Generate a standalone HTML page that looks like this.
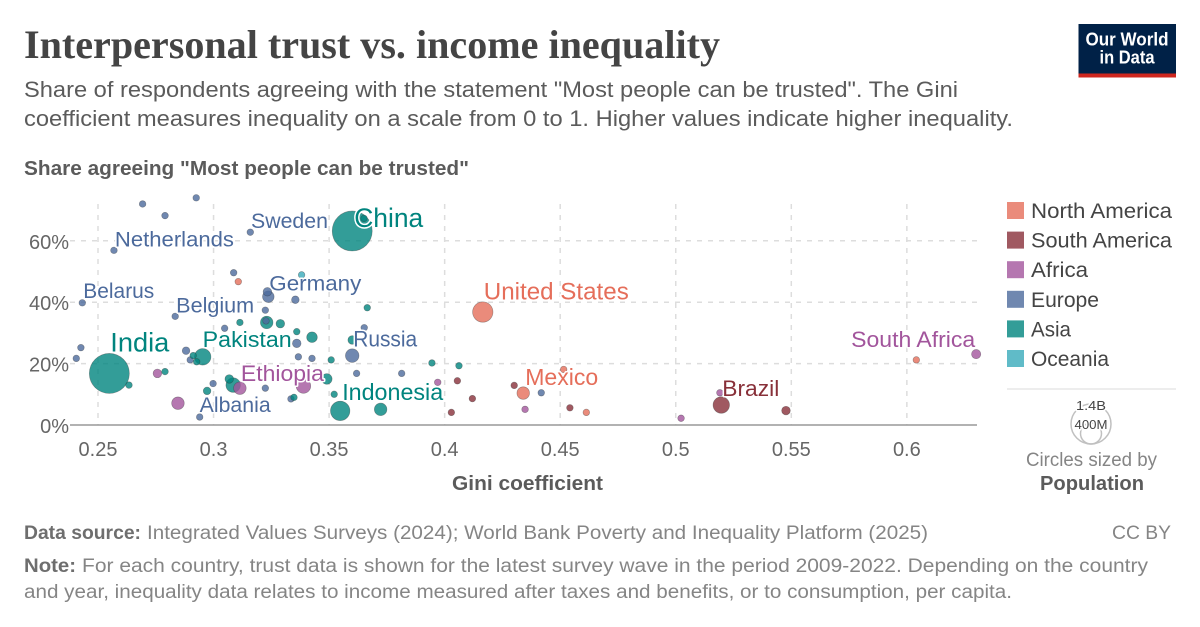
<!DOCTYPE html>
<html lang="en">
<head>
<meta charset="utf-8">
<title>Interpersonal trust vs. income inequality</title>
<style>
html,body{margin:0;padding:0;background:#fff;}
svg{display:block;font-family:"Liberation Sans",sans-serif;}
.lab{paint-order:stroke;stroke:#fff;stroke-width:3px;stroke-linejoin:round;}
</style>
</head>
<body>
<svg id="chart" width="1200" height="627" viewBox="0 0 1200 627" xmlns="http://www.w3.org/2000/svg">
  <rect width="1200" height="627" fill="#fff"/>
  <text x="24" y="58" font-family="'Liberation Serif',serif" font-weight="700" font-size="40" fill="#444" textLength="696" lengthAdjust="spacingAndGlyphs">Interpersonal trust vs. income inequality</text>
  <text x="24" y="97" font-size="22.5" fill="#5b5b5b" textLength="934" lengthAdjust="spacingAndGlyphs">Share of respondents agreeing with the statement "Most people can be trusted". The Gini</text>
  <text x="24" y="126" font-size="22.5" fill="#5b5b5b" textLength="989" lengthAdjust="spacingAndGlyphs">coefficient measures inequality on a scale from 0 to 1. Higher values indicate higher inequality.</text>

  <g>
    <rect x="1078.5" y="24" width="97.5" height="53" fill="#002147"/>
    <rect x="1078.5" y="73.5" width="97.5" height="4" fill="#ce261e"/>
    <text x="1127" y="45.5" text-anchor="middle" font-size="18" font-weight="700" fill="#fff" textLength="83" lengthAdjust="spacingAndGlyphs">Our World</text>
    <text x="1127" y="63.5" text-anchor="middle" font-size="18" font-weight="700" fill="#fff" textLength="55" lengthAdjust="spacingAndGlyphs">in Data</text>
  </g>

  <text x="24" y="175" font-size="20" font-weight="700" fill="#5b5b5b" textLength="445" lengthAdjust="spacingAndGlyphs">Share agreeing "Most people can be trusted"</text>
  <g id="grid"></g>
  <g id="ticks"></g>
  <line x1="70" x2="977" y1="425" y2="425" stroke="#999" stroke-width="1.5"/>
  <g id="points"></g>
  <g id="labels"></g>
  <text x="527.5" y="490" text-anchor="middle" font-size="20" font-weight="700" fill="#5b5b5b" textLength="151" lengthAdjust="spacingAndGlyphs">Gini coefficient</text>

  <g id="legend"></g>
  <line x1="1007" x2="1176" y1="389" y2="389" stroke="#e7e7e7" stroke-width="1.5"/>
  <g>
    <circle cx="1091" cy="424" r="20" fill="none" stroke="#c0c0c0" stroke-width="1.5"/>
    <circle cx="1091" cy="433.5" r="10.5" fill="none" stroke="#c0c0c0" stroke-width="1.5"/>
    <text class="lab" x="1091" y="410" text-anchor="middle" font-size="13" fill="#444" textLength="30" lengthAdjust="spacingAndGlyphs">1.4B</text>
    <text class="lab" x="1091" y="429" text-anchor="middle" font-size="13" fill="#444" textLength="33" lengthAdjust="spacingAndGlyphs">400M</text>
    <text x="1091.5" y="466" text-anchor="middle" font-size="19" fill="#858585" textLength="131" lengthAdjust="spacingAndGlyphs">Circles sized by</text>
    <text x="1092" y="490" text-anchor="middle" font-size="20" font-weight="700" fill="#5b5b5b" textLength="104" lengthAdjust="spacingAndGlyphs">Population</text>
  </g>

  <g font-size="19">
    <text x="24" y="539" font-weight="700" fill="#6e6e6e" textLength="117" lengthAdjust="spacingAndGlyphs">Data source:</text>
    <text x="147" y="539" fill="#858585" textLength="781" lengthAdjust="spacingAndGlyphs">Integrated Values Surveys (2024); World Bank Poverty and Inequality Platform (2025)</text>
    <text x="1171" y="539" text-anchor="end" fill="#858585" textLength="59" lengthAdjust="spacingAndGlyphs">CC BY</text>
    <text x="24" y="572" font-weight="700" fill="#6e6e6e" textLength="52" lengthAdjust="spacingAndGlyphs">Note:</text>
    <text x="82" y="572" fill="#858585" textLength="1066" lengthAdjust="spacingAndGlyphs">For each country, trust data is shown for the latest survey wave in the period 2009-2022. Depending on the country</text>
    <text x="24" y="598" fill="#858585" textLength="988" lengthAdjust="spacingAndGlyphs">and year, inequality data relates to income measured after taxes and benefits, or to consumption, per capita.</text>
  </g>
</svg>
<script>
const xTicks = [0.25, 0.3, 0.35, 0.4, 0.45, 0.5, 0.55, 0.6];
const xTickLabels = ['0.25', '0.3', '0.35', '0.4', '0.45', '0.5', '0.55', '0.6'];
const yTicks = [0, 20, 40, 60];
const yTickLabels = ['0%', '20%', '40%', '60%'];

const continents = ['North America', 'South America', 'Africa', 'Europe', 'Asia', 'Oceania'];

const northAmericaGini = [0.3107, 0.4165, 0.4340, 0.4515, 0.4613, 0.6041];
const northAmericaTrust = [46.7, 36.8, 10.4, 18.1, 4.1, 21.2];
const northAmericaPop = [31, 350, 126, 31, 31, 31];

const southAmericaGini = [0.4055, 0.4120, 0.4029, 0.4301, 0.4542, 0.5197, 0.5477];
const southAmericaTrust = [14.4, 8.6, 4.1, 12.9, 5.6, 6.5, 4.7];
const southAmericaPop = [31, 31, 31, 31, 31, 224, 56];

const africaGini = [0.2757, 0.2846, 0.3114, 0.3389, 0.3970, 0.4348, 0.5023, 0.6300, 0.5191];
const africaTrust = [16.8, 7.1, 12.0, 12.7, 13.9, 5.1, 2.2, 23.1, 10.5];
const africaPop = [56, 126, 126, 172, 31, 31, 31, 65, 31];

const europeGini = [0.2693, 0.2790, 0.2925, 0.3159, 0.2569, 0.2432, 0.3087, 0.3237, 0.3233, 0.3354, 0.2834, 0.3224, 0.3048, 0.3360, 0.3227, 0.2426, 0.2406, 0.2881, 0.2899, 0.2998, 0.2940, 0.3224, 0.3335, 0.3367, 0.3426, 0.3600, 0.3652, 0.3619, 0.3814, 0.4418];
const europeTrust = [72.0, 68.2, 74.0, 62.8, 56.9, 39.8, 49.6, 41.8, 43.4, 40.8, 35.4, 37.4, 31.5, 26.6, 33.9, 25.2, 21.7, 24.2, 21.2, 13.5, 2.6, 12.0, 8.5, 22.2, 21.7, 22.6, 31.7, 16.8, 16.8, 10.5];
const europePop = [31, 31, 31, 31, 31, 31, 31, 106, 56, 43, 31, 31, 31, 56, 31, 31, 31, 43, 31, 31, 31, 31, 31, 31, 31, 148, 31, 31, 31, 31];

const asiaGini = [0.3600, 0.3651, 0.2549, 0.2634, 0.2790, 0.2953, 0.2912, 0.2927, 0.2972, 0.3068, 0.3085, 0.3114, 0.3230, 0.3289, 0.3360, 0.3426, 0.3509, 0.3600, 0.3665, 0.3490, 0.3348, 0.3522, 0.3548, 0.3723, 0.3945, 0.4062];
const asiaTrust = [63.2, 67.3, 16.8, 13.0, 17.4, 22.2, 22.6, 20.6, 11.1, 15.0, 13.0, 33.4, 33.4, 33.0, 30.4, 28.6, 21.2, 27.7, 38.2, 15.0, 9.0, 10.0, 4.6, 5.1, 20.2, 19.3];
const asiaPop = [1400, 31, 1400, 31, 31, 224, 31, 31, 43, 56, 172, 31, 126, 56, 31, 88, 31, 56, 31, 88, 31, 31, 316, 126, 31, 31];

const oceaniaGini = [0.3381];
const oceaniaTrust = [48.9];
const oceaniaPop = [31];

const labelNames = ['Sweden', 'Netherlands', 'China', 'India', 'Belarus', 'Germany', 'Belgium', 'Pakistan', 'Russia', 'Ethiopia', 'Albania', 'Indonesia', 'United States', 'Mexico', 'Brazil', 'South Africa'];
const labelContinents = ['Europe', 'Europe', 'Asia', 'Asia', 'Europe', 'Europe', 'Europe', 'Asia', 'Europe', 'Africa', 'Europe', 'Asia', 'North America', 'North America', 'South America', 'Africa'];
const labelGini = [0.3159, 0.2569, 0.3600, 0.2549, 0.2432, 0.3237, 0.2834, 0.2953, 0.3600, 0.3389, 0.2940, 0.3548, 0.4165, 0.4340, 0.5197, 0.6300];
const labelTrust = [62.8, 56.9, 63.2, 16.8, 39.8, 41.8, 35.4, 22.2, 22.6, 12.7, 2.6, 4.6, 36.8, 10.4, 6.5, 23.1];

(function () {
  const NS = 'http://www.w3.org/2000/svg';
  const xAxis = g => 98 + (g - 0.25) * 2311;
  const yAxis = t => 425 - t * 3.07;
  const radius = p => 0.4 + 19.6 * Math.sqrt(p / 1400);
  const slug = s => s.toLowerCase().replace(/[^a-z0-9]+/g, '-');
  const fills = { 'North America': '#E56E5A', 'South America': '#883039', 'Africa': '#A2559C', 'Europe': '#4C6A9C', 'Asia': '#00847E', 'Oceania': '#38AABA' };
  const textColors = fills;
  function make(tag, attrs, parent) {
    const el = document.createElementNS(NS, tag);
    for (const k in attrs) el.setAttribute(k, attrs[k]);
    parent.appendChild(el);
    return el;
  }

  const grid = document.getElementById('grid');
  const ticks = document.getElementById('ticks');
  xTicks.forEach((v, i) => {
    const line = make('line', { x1: xAxis(v), x2: xAxis(v), y1: 204, y2: 425, stroke: '#ddd', 'stroke-width': 1.5, 'stroke-dasharray': '5 6' }, grid);
    
    
    const t = make('text', { x: xAxis(v), y: 456, 'text-anchor': 'middle', 'font-size': 20, fill: '#666' }, ticks);
    t.textContent = xTickLabels[i];
    
    
  });
  yTicks.forEach((v, i) => {
    if (v !== 0) {
      const line = make('line', { x1: 70, x2: 977, y1: yAxis(v), y2: yAxis(v), stroke: '#ddd', 'stroke-width': 1.5, 'stroke-dasharray': '5 6' }, grid);
      
      
    }
    const t = make('text', { x: 69, y: yAxis(v) + 8, 'text-anchor': 'end', 'font-size': 20, fill: '#666' }, ticks);
    t.textContent = yTickLabels[i];
    
    
  });

  const series = [
    ['North America', northAmericaGini, northAmericaTrust, northAmericaPop],
    ['South America', southAmericaGini, southAmericaTrust, southAmericaPop],
    ['Africa', africaGini, africaTrust, africaPop],
    ['Europe', europeGini, europeTrust, europePop],
    ['Asia', asiaGini, asiaTrust, asiaPop],
    ['Oceania', oceaniaGini, oceaniaTrust, oceaniaPop]
  ];
  const rows = [];
  series.forEach(s => s[1].forEach((g, i) => rows.push({ c: s[0], g: g, t: s[2][i], p: s[3][i] })));
  rows.sort((a, b) => b.p - a.p);
  const points = document.getElementById('points');
  rows.forEach(r => {
    const dot = make('circle', { cx: xAxis(r.g), cy: yAxis(r.t), r: radius(r.p), fill: fills[r.c], 'fill-opacity': 0.8, stroke: '#333', 'stroke-opacity': 0.45, 'stroke-width': 0.6 }, points);
    
    
  });

  const labelLayout = {
    'Sweden': [0.7, -4, 77, 21.5], 'Netherlands': [1, -4, 119, 21.5], 'China': [2, -4, 69, 27],
    'India': [1, -22, 59, 27], 'Belarus': [1, -5, 71, 21], 'Germany': [1, -6, 92, 21.5],
    'Belgium': [1, -4, 78, 21], 'Pakistan': [0, -10, 89, 22.5], 'Russia': [1, -9, 64, 22],
    'Ethiopia': [-62.5, -5, 83, 22], 'Albania': [0, -5, 71, 21], 'Indonesia': [2, -11, 101, 23.5],
    'United States': [1, -12.5, 145, 24.5], 'Mexico': [2, -8, 73, 23], 'Brazil': [1, -9, 57, 22],
    'South Africa': [-125, -7, 124, 22.5]
  };
  const labels = document.getElementById('labels');
  labelNames.forEach((name, i) => {
    const l = labelLayout[name];
    const t = make('text', { class: 'lab', x: xAxis(labelGini[i]) + l[0], y: yAxis(labelTrust[i]) + l[1], 'font-size': l[3], fill: textColors[labelContinents[i]], textLength: l[2], lengthAdjust: 'spacingAndGlyphs' }, labels);
    t.textContent = name;
    
    
  });

  const legend = document.getElementById('legend');
  const legendWidths = [141, 141, 57, 68, 40, 78];
  continents.forEach((c, i) => {
    const top = 202 + i * 29.6;
    const sw = make('rect', { x: 1007, y: top, width: 17, height: 17, fill: fills[c], 'fill-opacity': 0.8 }, legend);
    
    
    const t = make('text', { x: 1031, y: top + 16, 'font-size': 21, fill: '#444', textLength: legendWidths[i], lengthAdjust: 'spacingAndGlyphs' }, legend);
    t.textContent = c;
    
    
  });
})();
</script>
</body>
</html>
